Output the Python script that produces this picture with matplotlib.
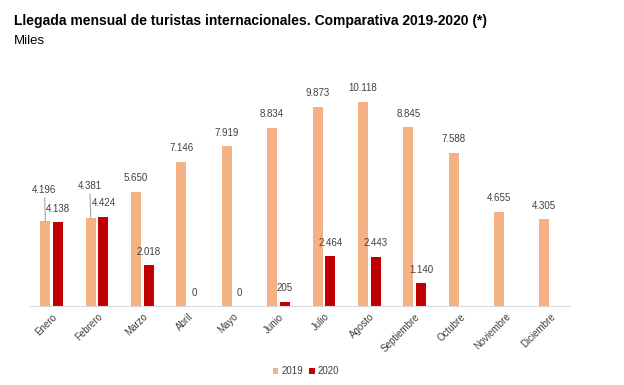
import matplotlib
matplotlib.use("Agg")
import matplotlib.pyplot as plt
import numpy as np

plt.rcParams['font.family'] = ['Liberation Sans', 'DejaVu Sans']

meses = ['Enero', 'Febrero', 'Marzo', 'Abril', 'Mayo', 'Junio', 'Julio',
         'Agosto', 'Septiembre', 'Octubre', 'Noviembre', 'Diciembre']
v2019 = [4196, 4381, 5650, 7146, 7919, 8834, 9873, 10118, 8845, 7588, 4655, 4305]
v2020 = [4138, 4424, 2018, 0, 0, 205, 2464, 2443, 1140]

c2019 = '#F4B183'
c2020 = '#C00000'
gris = '#404040'


def fmt(v):
    return f'{v:,}'.replace(',', '.')


fig = plt.figure(figsize=(6.24, 3.85), dpi=100)
ax = fig.add_axes([0.048, 0.205, 0.865, 0.63])

x = np.arange(len(meses))
w = 0.22
ax.bar(x - 0.14, v2019, w, color=c2019, label='2019')
x20 = np.arange(len(v2020))
ax.bar(x20 + 0.14, v2020, w, color=c2020, label='2020')

ax.set_ylim(0, 12000)
ax.set_xlim(-0.48, 11.42)

# etiquetas 2019
for i, v in enumerate(v2019):
    if i < 2:
        ax.annotate(fmt(v), xy=(i - 0.14, v), xytext=(i - 0.16, v + 1300),
                    ha='center', va='bottom', fontsize=7, color=gris,
                    arrowprops=dict(arrowstyle='-', color='#A6A6A6', lw=0.8,
                                    shrinkA=0, shrinkB=0))
    else:
        ax.text(i - 0.14, v + 420, fmt(v), ha='center', va='bottom',
                fontsize=7, color=gris)

# etiquetas 2020
for i, v in enumerate(v2020):
    ax.text(i + 0.14, v + 420, fmt(v), ha='center', va='bottom',
            fontsize=7, color=gris)

for s in ['top', 'right', 'left']:
    ax.spines[s].set_visible(False)
ax.spines['bottom'].set_color('#D9D9D9')
ax.set_yticks([])
ax.set_xticks(x)
ax.set_xticklabels(meses, rotation=45, ha='right', rotation_mode='anchor',
                   fontsize=7, color=gris)
ax.tick_params(axis='x', length=0, pad=4)

fig.text(0.022, 0.935, 'Llegada mensual de turistas internacionales. Comparativa 2019-2020 (*)',
         fontsize=10, fontweight='bold', color='black', va='baseline')
fig.text(0.022, 0.885, 'Miles', fontsize=9.5, color='black', va='baseline')

fig.legend(loc='lower center', bbox_to_anchor=(0.49, 0.0), ncol=2, frameon=False,
           fontsize=7, handlelength=0.6, handleheight=0.6, handletextpad=0.3,
           columnspacing=0.6, labelcolor=gris)

fig.savefig('out.png', dpi=100)
